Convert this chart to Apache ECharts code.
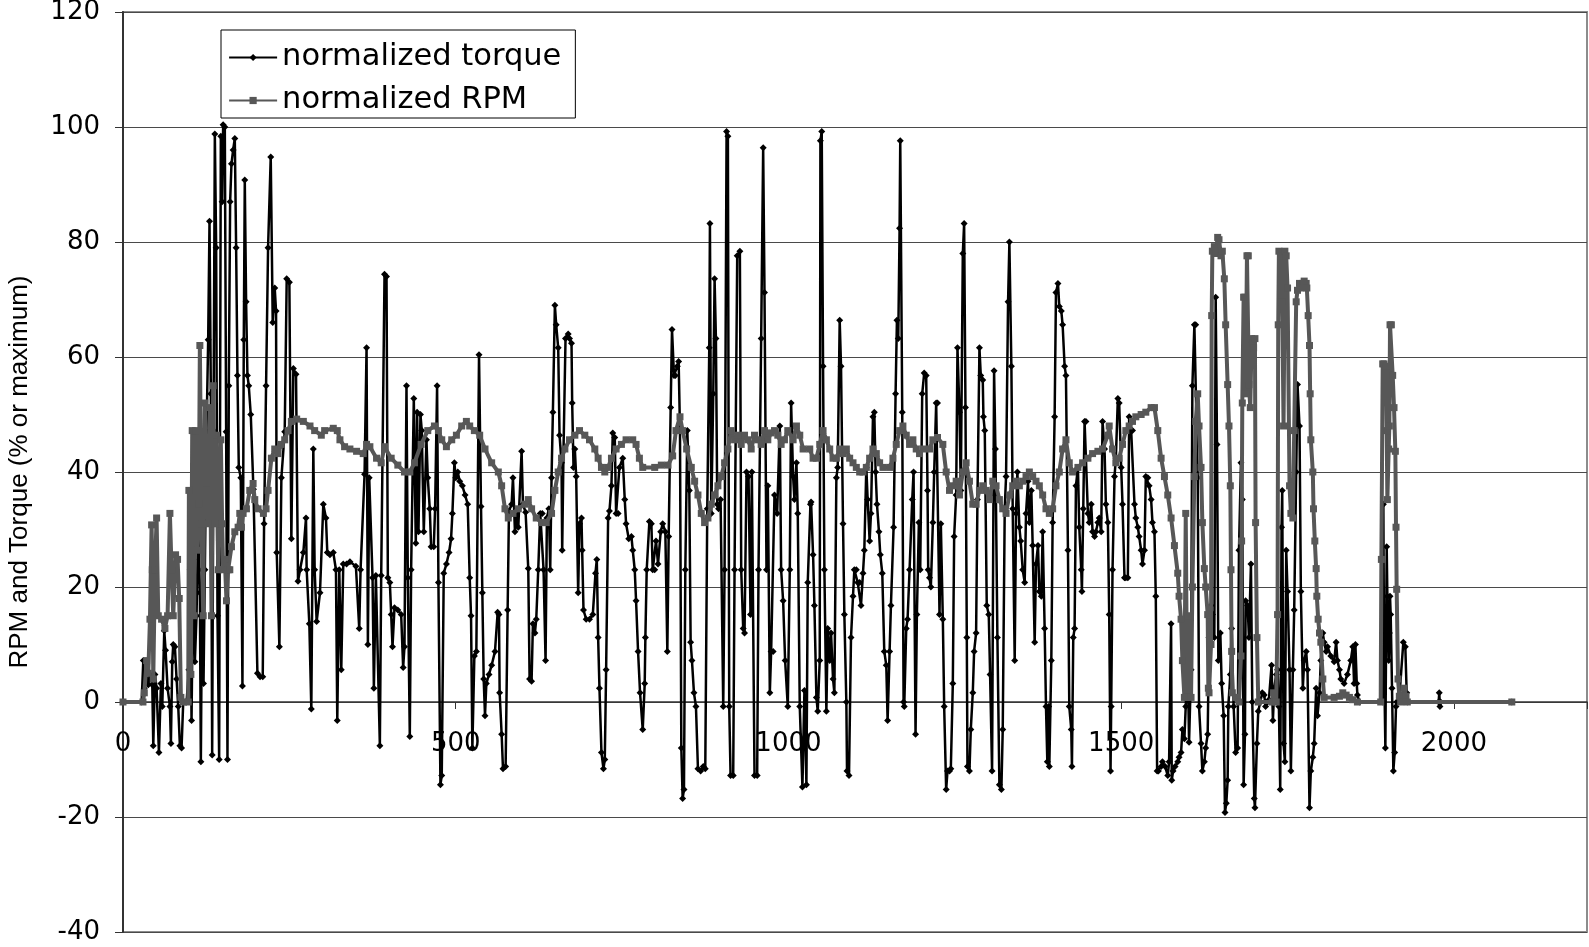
<!DOCTYPE html>
<html><head><meta charset="utf-8">
<script src="https://cdn.jsdelivr.net/npm/echarts@6/dist/echarts.min.js"></script>
<style>html,body{margin:0;padding:0;background:#fff}#c{width:1589px;height:947px}</style>
</head><body><div id="c"></div>
<script>
// x tick labels / axis
var xTicks = [0, 500, 1000, 1500, 2000];
var yTicks = [-40, -20, 0, 20, 40, 60, 80, 100, 120];
var seriesNames = ["normalized torque", "normalized RPM"];
var yAxisTitle = "RPM and Torque (% or maximum)";

// normalized torque: time, value
var torqueT = [0,28,30.5,32,35.5,38,40.5,44,45.5,48,50.5,54,57,59,62,64,67,70.5,72,74,75.5,78,80.5,83,85.5,88,90.5,95.5,99,101,103,105.5,108,110.5,113,115.5,117,119,121,123,125.5,128,130,132,134,136,138,140,142,144.5,147,149,150.5,153,155,157,159,161,163,165.5,168,170,172,174,177,179.5,181.5,183,185,187,189,192,196,202,206,210,212,215,218,222,225,228,230,231,235,238,243,246,250,253,256,260,263,266,271,275,276,280,283,286,288,291,296,301,305,307,311,316,320,322,325,328,331,336,341,350,355,357,363,366,368,370,375,377,380,386,388,393,396,398,401,403,405,408,413,418,421,423,426,428,431,433,437,440,442,444,447,449,452,456,458,461,463,467,469,472,474,477,479,482,486,490,493,495,498,500,503,506,510,514,518,521,523,525,528,531,535,538,540,542,544,546,550,554,559,563,565,566,569,571,575,578,580,584,586,589,591,594,599,601,605,609,611,614,616,619,621,624,627,630,632,635,637,640,642,644,646,649,651,654,656,659,660,662,665,669,671,674,675,677,679,681,684,686,689,690,692,696,701,706,710,712,714,716,719,722,724,726,729,731,734,736,739,741,744,746,751,754,756,760,764,766,769,771,774,777,781,784,785,787,791,794,796,799,801,804,808,811,815,818,820,823,825,828,830,833,835,837,839,841,843,845,848,851,853,855,858,861,864,868,872,875,878,881,882,884,887,889,891,893,895,898,902,904,907,909,911,913,917,919,923,927,929,932,934,937,940,943,945,949,953,955,959,962,964,967,969,972,974,977,979,983,987,989,992,995,999,1002,1004,1007,1009,1012,1014,1017,1021,1024,1027,1029,1033,1034,1037,1039,1042,1044,1047,1048,1050,1052,1054,1057,1059,1062,1064,1067,1069,1072,1074,1077,1079,1082,1084,1087,1088,1091,1094,1097,1099,1102,1104,1107,1109,1112,1114,1117,1119,1122,1124,1127,1129,1131,1133,1136,1138,1141,1144,1147,1149,1152,1154,1158,1161,1163,1165,1167,1168,1171,1173,1174,1177,1179,1182,1186,1188,1191,1193,1196,1198,1201,1204,1207,1209,1210,1212,1214,1217,1219,1222,1224,1227,1229,1232,1234,1237,1239,1242,1244,1247,1249,1252,1254,1257,1259,1262,1264,1266,1268,1269,1272,1274,1277,1279,1282,1284,1287,1289,1292,1293,1295,1298,1301,1303,1306,1309,1311,1314,1317,1320,1322,1325,1327,1330,1332,1335,1337,1340,1342,1344,1347,1349,1352,1355,1357,1360,1362,1365,1367,1370,1372,1375,1377,1380,1382,1385,1387,1389,1391,1392,1395,1397,1400,1402,1405,1407,1410,1412,1415,1417,1420,1422,1425,1426,1428,1430,1432,1435,1437,1440,1441,1443,1445,1447,1450,1452,1455,1457,1460,1462,1465,1467,1470,1472,1475,1477,1480,1482,1484,1485,1487,1490,1492,1495,1497,1500,1502,1505,1507,1510,1512,1515,1517,1520,1522,1525,1527,1530,1532,1535,1537,1540,1542,1545,1547,1550,1552,1554,1556,1560,1562,1566,1570,1572,1575,1576,1578,1581,1585,1587,1590,1592,1595,1597,1600,1602,1605,1607,1610,1612,1615,1617,1620,1622,1625,1627,1630,1632,1635,1637,1640,1642,1644,1646,1649,1651,1654,1656,1658,1660,1661,1664,1666,1669,1672,1675,1677,1680,1682,1684,1686,1687,1690,1692,1695,1697,1700,1701,1704,1706,1709,1712,1715,1717,1720,1722,1726,1728,1730,1733,1735,1737,1739,1741,1742,1744,1746,1748,1750,1753,1755,1758,1760,1763,1765,1768,1770,1773,1775,1778,1780,1783,1785,1788,1790,1793,1795,1798,1800,1803,1805,1808,1810,1815,1820,1823,1825,1828,1830,1835,1840,1845,1848,1850,1852,1854,1855,1858,1893,1894,1895,1897,1899,1900,1902,1903,1904,1905,1907,1909,1911,1913,1914,1918,1924,1927,1929,1930,1977,1978,1979,1980,2087];
var torqueV = [0,0,7.2,2.4,4,3,4.8,3,-7.6,4.8,2.4,-8.8,3.2,-0.8,12.4,9,2.4,-0.8,-7.2,7,10,9.6,4,-0.8,-7.6,-8,0,0,5.6,23,-3.2,24.8,7,15,31,19,-10.4,23,3.2,23,47,63,83.6,53.6,-9.2,47.2,98.8,79,15,-10,98.4,87,100.4,100,47,-10,55,87,93.6,96,98,79,56.8,40.8,39,2.8,63,90.8,69.6,56.8,55,50,37,5,4.4,4.4,31,55,79,94.8,66,72,68,26,9.6,39,47,73.6,73,28.4,58,57,21,23,26,32,23,13.6,-1.2,44,23,14,19,34.4,32,26,25.6,26,23,-3.2,23,5.6,24,24,24.4,23.6,12.8,23,39.6,61.6,10,39,21.6,2.4,22,-7.6,22,74.4,74,21.6,20.8,15.2,9.6,16.4,16,15.2,6,9.6,55,21.6,-6,23,52.8,27.6,50.4,29.6,50,47.2,29.6,45.6,39,33.6,27,27,33.6,55,20.8,-14.4,-12.8,22.4,24,26,28.4,32.8,41.6,39,40,38.4,37.6,36,34.4,21.6,15,-8,8,8.8,60.4,34,19,4,-2.4,3.2,4.8,6.4,8.8,15.6,15.2,1.6,-5.6,-11.6,-11.2,16,33.2,34.4,39,29.6,32.8,30.4,43.6,34.4,33,23.2,4,3.6,13.6,12,14.4,23,32.8,32.8,23,7.2,32,33.6,23,39,50.4,69,65.6,61.6,46.4,41.6,26.4,44,63.2,64,63.2,62.4,52,40.8,44,39.2,19,31,32,26.4,16,14.4,14.4,15.2,22.4,24.8,11.2,2.4,-8.8,-11.6,-10,5.6,32,33.2,37.6,46.8,46,32.8,32.8,40.8,42.4,35.2,31,28.4,28.8,26.4,23,17.6,8.8,1.6,-4.8,3.2,11.2,23,31.4,31,23,23,28,24,29.6,31,29.6,8.8,28.8,51.2,64.8,56.8,56.8,58.4,59.2,47.2,-8,-16.8,-15.2,23,47.2,36.8,10.4,7.2,1.6,-0.8,-11.6,-12,-11.2,-11.6,33.6,61.6,83.2,32.8,53.6,73.6,63.2,34.4,33.6,35.2,-0.8,23,99.2,98.4,-0.8,-12.8,-12.8,23,77.6,78.4,23,12.8,12,40,39.2,15.2,40,-12.8,-12.8,23,63.2,96.4,71.2,23,37.6,1.6,8.8,8.8,36,32.8,48,23,17.6,7.2,-0.8,23,52,39.2,35.2,41.6,32.8,-0.8,-14.8,2,-14.4,20.8,34.4,34.8,25.6,16.8,0.8,-1.6,7.2,97.6,99.2,58.4,23,-1.6,12.8,7.2,12,4,1.6,39,40.8,66.4,58.4,31,15.2,0,-12,-12.8,11.2,18.4,23,23,20.8,20.8,16.8,22.4,26.4,40.8,35.2,28,32.8,49.6,50.4,40,34.4,29.6,25.6,22.4,8.8,6.4,-3.2,8.8,16.8,30.4,53.6,66.4,63.2,82.4,97.6,50.4,0,-0.8,12.8,14.4,23,35.2,40,-5.6,15.2,31.2,23,53.6,57.2,56.8,36.8,23,21.6,20,31.2,40,52,52,15.2,31,14.4,-0.8,-15.2,-12,-12,-11.6,3.2,28.8,36,61.6,50.4,36.8,78,83.2,51.2,11.2,-11.2,-12,-4.8,1.6,8.8,12,35.2,61.6,56.8,56,49.6,47.2,16.8,15.2,4.8,-12,57.6,44,11.2,-14.4,-15.2,-4.8,33.6,39.2,69.6,80,58.4,33.6,7.2,32.8,40,30.4,28,23,20.8,32.8,38.4,31.2,36.8,27.2,10.4,24,27.2,19.2,18.4,29.6,12.8,-0.8,-10.4,-0.8,-11.2,7.2,31.2,49.6,71.2,72.8,68.8,68,65.6,58.4,56.8,26.4,-0.8,-4.8,-11.2,11.2,12.8,37.6,40.8,30.4,23,19.2,33.6,48.8,48.8,32.8,31.2,34.4,29.6,28.8,29.6,31.2,32,29.6,48.8,44,34.4,31.2,15.2,-12,-0.8,23,39.2,42.4,52.8,52,40.8,34.4,21.6,21.6,21.6,49.6,47.2,47.2,34.4,32,30.4,28.8,26.4,24,26.4,39.2,39,37.6,35.2,31.2,29.6,18.4,-12,-12,-11.2,-10.4,-11.2,-12.8,-10.4,13.6,-13.6,-12,-11.2,-10.4,-9.6,-8.8,-4.8,-6.4,-0.8,7.2,-7,5.6,55,65.6,65.6,39,-0.8,-7.2,-12,-10.4,-8,-5.6,11.2,16.8,15.2,11.2,70.4,44.8,7.2,12,3.2,-2.4,-19.2,-17.6,-13.6,-0.8,4.8,12.8,-0.8,-8.8,-8,26.4,41.6,35.2,-14.4,-5.6,17.6,16.8,11.2,24,0,-16.8,-18.4,-7.2,-1.6,0,1.6,1.2,-0.8,0,0.4,6.4,-3.2,2.4,4.8,5.6,-0.8,-15.2,30.4,36.8,-7.2,-10.4,26.4,19.2,5.6,-12,5.6,16,40,55.2,48,19.2,2.4,7.2,8.8,5.6,-18.4,-12,-9.6,-7.2,2.4,-2.4,1.6,7.2,12,10.4,8.8,9.6,8,7,10.4,7.2,5.6,4,3.2,4.8,7.2,9.6,3.2,10,3.2,1.2,0,0,34.4,8,-8,27,18.4,7.2,12,18.4,15.2,2.4,-12,-8.8,-0.8,0,0.8,10.4,9.6,1.6,0,0,1.6,-0.8,0,0];

// normalized RPM: time, value
var rpmT = [0,30,32,35.5,38,40.5,43,44,45.5,48,50.5,53,58,63,67,70.5,73,75.5,79,82,84.5,87,90.5,98,99,102,104,107,109,112,114,115.5,118,120.5,123,125.5,128,130.5,133,135.5,138,140.5,143,147,149,150.5,153,155.5,158,160.5,163,168,173,175.5,178,180.5,185.5,190.5,195.5,198,203,211,215,218,223,228,233,238,243,248,253,261,271,281,288,298,303,316,322,326,333,341,351,361,366,371,381,388,393,403,413,423,431,438,448,458,468,474,479,486,494,501,509,516,521,528,536,544,554,564,569,574,579,586,594,604,609,614,621,629,636,644,649,654,659,664,671,679,686,694,701,709,714,719,724,729,734,741,749,756,766,771,776,781,799,809,819,826,831,837,841,847,854,859,864,869,874,879,884,889,894,899,904,909,914,919,924,929,934,939,944,949,954,959,964,969,974,979,984,989,994,999,1007,1012,1017,1022,1032,1037,1042,1047,1052,1057,1062,1067,1072,1077,1082,1087,1092,1097,1102,1107,1112,1117,1122,1127,1132,1137,1142,1152,1157,1162,1167,1172,1177,1182,1187,1192,1197,1202,1212,1217,1224,1232,1237,1242,1247,1252,1257,1262,1267,1272,1277,1282,1287,1292,1297,1302,1307,1312,1317,1322,1327,1332,1337,1342,1347,1352,1357,1362,1367,1372,1377,1382,1387,1392,1397,1402,1407,1412,1417,1422,1427,1435,1442,1450,1457,1465,1472,1480,1482,1487,1492,1497,1502,1507,1512,1517,1522,1530,1537,1545,1550,1555,1560,1565,1570,1575,1580,1585,1587,1590,1592,1595,1597,1599,1601,1605,1607,1610,1612,1615,1617,1620,1622,1625,1627,1630,1631,1632,1635,1636,1637,1640,1642,1645,1647,1650,1652,1655,1657,1660,1662,1664,1665,1666,1667,1672,1677,1680,1681,1682,1684,1686,1687,1689,1691,1692,1694,1696,1698,1699,1701,1702,1704,1706,1727,1729,1733,1735,1736,1737,1740,1742,1744,1746,1748,1750,1753,1755,1758,1760,1763,1765,1768,1770,1773,1775,1778,1779,1781,1783,1784,1785,1788,1789,1791,1793,1794,1796,1798,1800,1803,1805,1820,1828,1833,1838,1843,1848,1855,1890,1891,1893,1895,1898,1899,1900,1902,1903,1904,1906,1908,1910,1912,1913,1914,1916,1918,1920,1925,1928,1930,2087];
var rpmV = [0,0,1.6,7.2,5,14.4,30.8,23,4,23,32,15,14.4,12.8,15,32.8,23,15,25.6,24.8,18,0.8,0,0,36.8,4.8,47.2,15,47.2,26.4,34.4,62,31,15,52,36.8,31,51.2,15,55,31,46.4,23,45.6,31,23,24.8,17.6,23,23,27,29.6,30.4,32.8,30.4,32.8,33.6,36.8,38,35.2,33.6,32.8,33.6,36.8,42.4,44,43.2,44.8,45.6,47.2,48.8,49.2,48.8,48,47.2,46.4,47.2,47.6,47.2,45.6,44.4,44,43.6,43.2,44.8,44.4,42.4,41.6,44.4,42.4,41.2,40,40,41.6,44.8,47.2,48,47.2,45.6,44.4,45.6,46.4,48,48.8,48,47.2,46.4,44,41.6,40,37.6,33.6,32,32.8,33.6,34.4,35.2,33.6,32,31.2,31.2,32.8,36.8,40,42.4,44,45.6,46.4,47.2,46.4,45.6,44,42.4,40.8,40,40.8,42.4,44,44.8,45.6,45.6,44.8,42.4,40.8,40.8,41.2,41.2,42.8,47.2,49.6,47.2,44,40.8,38.4,36,32.8,31.2,32,34.4,36,37.6,39.2,41.6,44,47.2,45.6,46.4,44.8,46.4,45.6,44,46.4,45.6,44.8,47.2,45.6,46.8,47.2,46.4,44.8,45.6,47.2,45.6,48,46.4,44,44,42.4,42.4,44.8,47.2,45.6,44,42.4,42.4,44,43.2,44,42.4,41.6,40.8,40,40,40.8,42.4,44,43.2,41.6,40.8,40.8,42.4,44.8,47.2,48,46.4,44.8,45.6,44,43.2,44,44,45.6,46,44.8,40,36.8,37.6,38.4,36,40,41.6,38.4,34.4,34.4,36.8,37.6,36.8,35.2,38.4,37.6,35.2,33.6,32.8,36,37.6,38.4,37.6,38.4,39.2,40,39.2,38.4,37.6,36,33.6,32.8,33.6,37.6,40,44,45.6,41.6,40,40.8,41.6,42.4,43.2,43.6,44,46.4,48,44,41.6,42.4,44.8,47.2,48,48.8,49.6,50,50.4,51.2,51.2,47.2,42.4,39.2,36,32,27.2,22.4,18.4,14.4,7.2,0.8,32.8,0.8,15,0.8,20,39.2,48.8,53.6,48,40.8,31.2,23.2,20,15.2,2.4,1.6,10,67.2,78.4,79.2,78,80.8,80.4,77.6,78.4,73.6,65.6,55.2,48,37.6,23,8.8,1.6,0.8,0,8,28,52,70.4,70.4,53.6,77.6,77.6,55.2,51.2,63.2,62.4,61.6,63.2,31.2,11.2,0,0,1.6,0,15.2,65.6,78.4,77.6,69.6,48,78.4,77.6,72,37.6,32.8,32,47.2,69.6,71.6,72.8,72,72.8,73.2,72.8,72,67.2,62,53.6,45.6,40,33.6,28,23.2,18.4,14.4,12,10.4,4,0.8,0.8,1,1.6,1.2,0.8,0.4,0,0,24.8,58.8,58.8,58.4,47.2,35.2,44,48,65.6,65.6,56.8,51.2,43.6,30.4,19.6,4,1,0,2.4,1,0,0];

function pairs(t, v) { var out = []; for (var i = 0; i < t.length; i++) out.push([t[i], v[i]]); return out; }

var chart = echarts.init(document.getElementById('c'));
chart.setOption({
  animation: false,
  backgroundColor: '#ffffff',
  grid: { left: 123, right: 2, top: 12, bottom: 15, show: true, borderColor: '#8c8c8c', borderWidth: 2, containLabel: false, outerBoundsMode: 'none' },
  legend: {
    show: true, orient: 'vertical', left: 221, top: 30,
    backgroundColor: '#ffffff', borderColor: '#000000', borderWidth: 1,
    padding: [12, 14, 2, 7], itemGap: 12, itemWidth: 48, itemHeight: 9,
    textStyle: { fontFamily: 'DejaVu Sans', fontSize: 30.5, color: '#000' },
    data: [
      { name: seriesNames[0], lineStyle: { width: 1.8 } },
      { name: seriesNames[1], lineStyle: { width: 2.2 } }
    ]
  },
  xAxis: {
    type: 'value', min: 0, max: 2200, interval: 500,
    position: 'bottom', offset: -230,
    axisLine: { show: true, onZero: false, lineStyle: { color: '#333', width: 1.5 } },
    axisTick: { show: true, inside: false, length: 7, lineStyle: { color: '#333' } },
    axisLabel: { show: true, margin: 29, fontFamily: 'DejaVu Sans', fontSize: 26, color: '#000',
      formatter: function (v) { var n = Number(v); return (n % 500 === 0 && n <= 2000) ? String(n) : ''; } },
    splitLine: { show: false }
  },
  yAxis: {
    type: 'value', min: yTicks[0], max: yTicks[yTicks.length - 1], interval: 20,
    name: yAxisTitle, nameLocation: 'middle', nameGap: 90,
    nameTextStyle: { fontFamily: 'Liberation Sans', fontSize: 26, color: '#000' },
    axisLine: { show: true, lineStyle: { color: '#333', width: 2 } },
    axisTick: { show: true, inside: false, length: 8, lineStyle: { color: '#333' } },
    axisLabel: { margin: 23, fontFamily: 'DejaVu Sans', fontSize: 26, color: '#000' },
    splitLine: { show: true, lineStyle: { color: '#4a4a4a', width: 1 } }
  },
  series: [
    {
      name: seriesNames[0], type: 'line', data: pairs(torqueT, torqueV), z: 2,
      symbol: 'diamond', symbolSize: 7, showSymbol: true,
      lineStyle: { color: '#000', width: 2.5 }, itemStyle: { color: '#000' }
    },
    {
      name: seriesNames[1], type: 'line', data: pairs(rpmT, rpmV), z: 3,
      symbol: 'rect', symbolSize: 7, showSymbol: true,
      lineStyle: { color: '#575757', width: 4 }, itemStyle: { color: '#575757' }
    }
  ]
});
</script></body></html>
